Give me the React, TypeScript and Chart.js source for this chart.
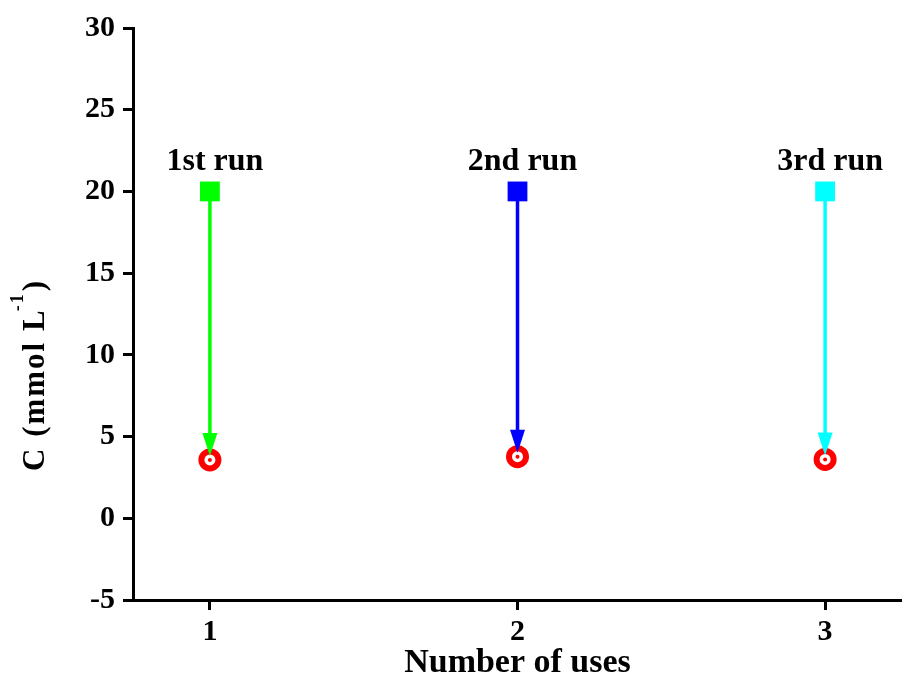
import { useEffect, useRef } from "react";
import { Chart, registerables } from "chart.js";

Chart.register(...registerables);

// ---- data ----
const uses = [1, 2, 3];
const runLabels = ["1st run", "2nd run", "3rd run"];
const initialC = [20, 20, 20];
const finalC = [3.57, 3.77, 3.6];
const runColors = ["#00ff00", "#0000ff", "#00ffff"];
const yTickValues = [-5, 0, 5, 10, 15, 20, 25, 30];
const xTitle = "Number of uses";
const yTitleMain = "C (mmol L";
const yTitleSup = "-1";
const yTitleEnd = ")";

const FONT = "'Liberation Serif', 'Times New Roman', serif";
const zeroPad = () => ({ left: 0, top: 0, right: 0, bottom: 0 });

const arrowPlugin = {
  id: "runArrows",
  afterDatasetsDraw(chart: any) {
    const { ctx } = chart;
    const x = chart.scales.x;
    const y = chart.scales.y;
    ctx.save();
    uses.forEach((u, i) => {
      const px = x.getPixelForValue(u);
      const sq = y.getPixelForValue(initialC[i]);
      const start = sq + 9;
      const tip = y.getPixelForValue(finalC[i]) - 4;
      const headLen = 23;
      const headW = 7.5;
      ctx.strokeStyle = runColors[i];
      ctx.fillStyle = runColors[i];
      ctx.lineWidth = 3.5;
      ctx.beginPath();
      ctx.moveTo(px, start);
      ctx.lineTo(px, tip - headLen + 2);
      ctx.stroke();
      ctx.beginPath();
      ctx.moveTo(px - headW, tip - headLen);
      ctx.lineTo(px + headW, tip - headLen);
      ctx.lineTo(px, tip);
      ctx.closePath();
      ctx.fill();
      ctx.fillStyle = "#000";
      ctx.font = `bold 32px ${FONT}`;
      ctx.textAlign = "center";
      ctx.textBaseline = "alphabetic";
      ctx.fillText(runLabels[i], px + 5, sq - 21);
    });
    ctx.restore();
  },
};

const yTitlePlugin = {
  id: "yTitleSup",
  afterDraw(chart: any) {
    const { ctx } = chart;
    const mainFont = `bold 31px ${FONT}`;
    const supFont = `bold 18px ${FONT}`;
    ctx.save();
    try {
      (ctx as any).letterSpacing = "2px";
    } catch (e) {}
    ctx.font = mainFont;
    const w1 = ctx.measureText(yTitleMain).width;
    const w3 = ctx.measureText(yTitleEnd).width;
    ctx.font = supFont;
    const w2 = ctx.measureText(yTitleSup).width;
    const total = w1 + w2 + w3 - 2;
    ctx.translate(44, 375);
    ctx.rotate(-Math.PI / 2);
    ctx.fillStyle = "#000";
    ctx.textAlign = "left";
    ctx.textBaseline = "alphabetic";
    let cx = -total / 2;
    ctx.font = mainFont;
    ctx.fillText(yTitleMain, cx, 0);
    cx += w1 - 3;
    ctx.font = supFont;
    ctx.fillText(yTitleSup, cx, -21);
    cx += w2 + 1;
    ctx.font = mainFont;
    ctx.fillText(yTitleEnd, cx, 0);
    ctx.restore();
  },
};

export default function App() {
  const ref = useRef<HTMLCanvasElement | null>(null);

  useEffect(() => {
    document.body.style.margin = "0";
    document.body.style.background = "#ffffff";
    const canvas = ref.current;
    if (!canvas) return;
    const chart = new Chart(canvas, {
      type: "scatter",
      data: {
        datasets: [
          {
            label: "dot",
            data: uses.map((u, i) => ({ x: u, y: finalC[i] })),
            pointStyle: "circle",
            pointRadius: 2,
            pointBackgroundColor: "#ff0000",
            pointBorderWidth: 0,
            showLine: false,
          },
          {
            label: "final",
            data: uses.map((u, i) => ({ x: u, y: finalC[i] })),
            pointStyle: "circle",
            pointRadius: 8.5,
            pointBorderWidth: 6,
            pointBorderColor: "#ff0000",
            pointBackgroundColor: "#ffffff",
            showLine: false,
          },
          {
            label: "initial",
            data: uses.map((u, i) => ({ x: u, y: initialC[i] })),
            pointStyle: "rect",
            pointRadius: 14,
            pointBorderWidth: 0,
            pointBackgroundColor: runColors,
            showLine: false,
          },
        ],
      },
      options: {
        responsive: false,
        animation: false,
        events: [],
        layout: { autoPadding: false, padding: { top: 28, right: 0, bottom: 0, left: 0 } },
        plugins: {
          legend: { display: false },
          tooltip: { enabled: false },
        },
        scales: {
          x: {
            type: "linear",
            min: 0.75,
            max: 3.25,
            afterFit(scale: any) {
              scale.height = 84;
              scale.paddingRight = 0;
              scale.paddingLeft = 0;
              scale.getPadding = zeroPad;
            },
            afterBuildTicks(scale: any) {
              scale.ticks = uses.map((v) => ({ value: v }));
            },
            ticks: {
              color: "#000",
              font: { family: FONT, size: 30, weight: "bold" },
              padding: 4,
              maxRotation: 0,
            },
            grid: {
              drawOnChartArea: false,
              drawTicks: true,
              tickLength: 10,
              tickWidth: 3,
              tickColor: "#000",
            },
            border: { display: true, color: "#000", width: 3 },
            title: {
              display: true,
              text: xTitle,
              color: "#000",
              font: { family: FONT, size: 34, weight: "bold", lineHeight: 1.2 },
              padding: { top: 0, bottom: 0 },
            },
          },
          y: {
            type: "linear",
            min: -5,
            max: 30,
            afterFit(scale: any) {
              scale.width = 133;
              scale.getPadding = zeroPad;
            },
            afterBuildTicks(scale: any) {
              scale.ticks = yTickValues.map((v) => ({ value: v }));
            },
            ticks: {
              color: "#000",
              font: { family: FONT, size: 30, weight: "bold" },
              padding: 8,
            },
            grid: {
              drawOnChartArea: false,
              drawTicks: true,
              tickLength: 10,
              tickWidth: 3,
              tickColor: "#000",
            },
            border: { display: true, color: "#000", width: 3 },
          },
        },
      },
      plugins: [arrowPlugin, yTitlePlugin],
    });
    return () => chart.destroy();
  }, []);

  return <canvas ref={ref} width={902} height={684} style={{ display: "block" }} />;
}
